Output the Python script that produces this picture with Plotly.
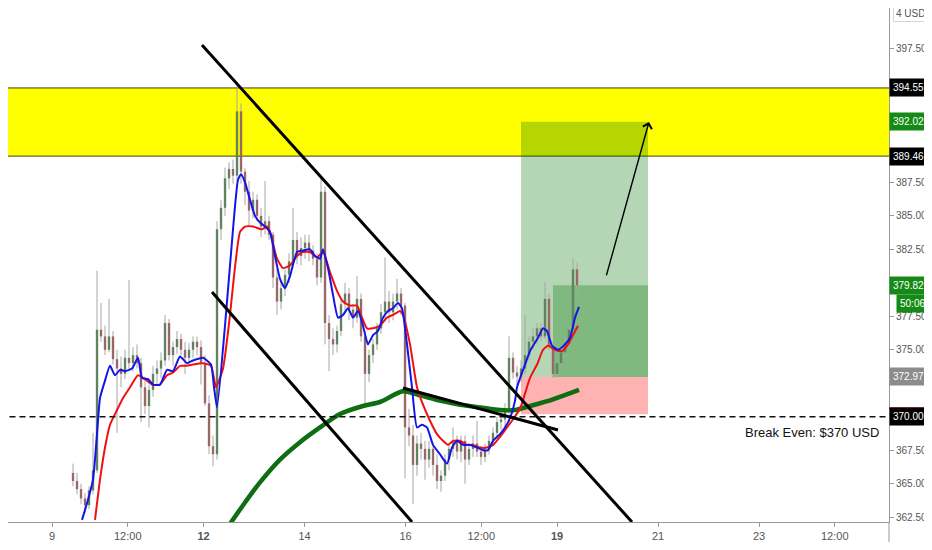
import plotly.graph_objects as go

# ---------------- data ----------------
opens = [365.8, 365.2, 364.6, 363.9, 363.4, 364.5, 366.0, 376.5, 376.0, 375.0, 376.0, 374.3,
         373.6, 373.2, 374.4, 374.0, 374.6, 374.0, 372.2, 370.8, 372.0, 373.2, 373.6, 374.2,
         377.0, 374.6, 375.2, 375.8, 375.0, 374.4, 375.0, 375.6, 375.2, 374.0, 371.0, 367.8,
         367.2, 384.0, 385.6, 387.8, 388.5, 388.0, 392.8, 388.3, 386.8, 385.4, 386.2, 385.0,
         384.2, 384.6, 383.6, 380.4, 378.6, 379.6, 380.6, 381.6, 383.2, 382.0, 382.6, 383.0,
         382.4, 381.8, 380.4, 386.8, 377.0, 375.8, 375.4, 376.4, 378.4, 379.2, 378.0, 377.4,
         378.8, 376.0, 373.2, 374.6, 375.4, 376.6, 377.8, 378.6, 377.8, 378.6, 379.2, 378.3,
         369.2, 368.6, 366.4, 368.0, 367.6, 366.8, 367.6, 366.4, 365.2, 365.6, 366.8, 367.6,
         368.2, 367.4, 368.2, 366.8, 367.6, 368.0, 367.4, 367.0, 367.6, 368.2, 368.8, 369.6,
         369.8, 370.6, 374.4, 373.3, 373.0, 373.6, 374.6, 375.6, 376.0, 376.6, 376.0, 378.8,
         375.3, 373.2, 374.0, 374.8, 375.5, 376.5, 381.0]
highs = [366.5, 365.8, 365.0, 364.3, 364.8, 368.8, 380.9, 378.5, 376.8, 378.8, 376.4, 375.0,
         374.5, 375.0, 380.2, 375.2, 375.4, 374.4, 373.0, 372.4, 373.8, 374.2, 374.8, 377.6,
         377.3, 375.6, 376.4, 376.2, 375.6, 375.5, 376.0, 376.0, 375.7, 374.6, 371.6, 368.6,
         384.6, 386.2, 388.6, 389.0, 389.2, 395.0, 393.4, 388.6, 387.6, 386.8, 386.6, 385.6,
         387.6, 385.0, 383.8, 381.0, 380.2, 381.0, 382.2, 385.6, 383.8, 383.4, 383.6, 383.6,
         382.8, 382.2, 387.8, 387.2, 377.6, 376.6, 376.8, 378.8, 380.0, 379.6, 378.4, 380.5,
         379.2, 376.4, 375.0, 375.8, 377.0, 378.4, 381.9, 379.4, 379.2, 380.3, 379.6, 378.5,
         370.6, 369.4, 368.6, 368.8, 368.2, 368.2, 368.0, 367.2, 366.0, 367.2, 368.0, 369.2,
         368.6, 368.6, 368.6, 368.0, 368.6, 369.7, 367.8, 368.0, 368.6, 369.2, 370.0, 370.4,
         371.0, 376.0, 374.8, 373.8, 374.2, 377.6, 376.0, 376.6, 377.0, 377.0, 380.1, 379.2,
         375.6, 374.4, 375.0, 375.8, 376.8, 381.8, 381.5]
lows = [364.8, 364.2, 363.5, 362.8, 363.1, 364.2, 365.8, 375.6, 374.6, 374.8, 373.9, 368.8,
        372.2, 372.8, 373.5, 373.4, 373.6, 369.6, 370.2, 369.2, 371.5, 372.4, 372.9, 373.8,
        374.2, 373.8, 374.7, 374.6, 373.2, 373.8, 374.4, 374.6, 372.4, 370.8, 367.2, 366.3,
        366.8, 383.2, 385.0, 387.0, 387.4, 387.6, 387.4, 385.8, 384.2, 384.8, 384.6, 383.4,
        383.6, 383.2, 379.6, 377.6, 378.0, 379.0, 380.0, 381.2, 381.4, 381.3, 381.8, 381.6,
        381.3, 379.8, 380.0, 375.4, 373.4, 374.6, 374.8, 376.0, 377.8, 377.2, 376.6, 377.0,
        375.6, 370.9, 372.6, 374.0, 375.0, 376.2, 377.2, 377.0, 377.2, 378.0, 377.6, 365.4,
        367.8, 363.5, 365.6, 366.8, 365.3, 366.2, 365.6, 364.6, 364.4, 365.2, 366.0, 367.0,
        366.8, 366.6, 365.0, 366.4, 367.0, 367.0, 366.4, 366.6, 367.2, 367.8, 368.4, 369.0,
        369.2, 370.2, 372.8, 372.4, 372.6, 373.2, 374.2, 375.0, 375.4, 375.6, 375.8, 375.0,
        372.9, 373.0, 373.6, 374.4, 375.0, 376.2, 379.2]
closes = [365.2, 364.6, 363.9, 363.4, 364.5, 366.0, 376.5, 376.0, 375.0, 376.0, 374.3, 373.6,
          373.2, 374.4, 374.0, 374.6, 374.0, 372.2, 370.8, 372.0, 373.2, 373.6, 374.2, 377.0,
          374.6, 375.2, 375.8, 375.0, 374.4, 375.0, 375.6, 375.2, 374.0, 371.0, 367.8, 367.2,
          384.0, 385.6, 387.8, 388.5, 388.0, 392.8, 388.3, 386.8, 385.4, 386.2, 385.0, 384.2,
          384.6, 383.6, 380.4, 378.6, 379.6, 380.6, 381.6, 383.2, 382.0, 382.6, 383.0, 382.4,
          381.8, 380.4, 386.8, 377.0, 375.8, 375.4, 376.4, 378.4, 379.2, 378.0, 377.4, 378.8,
          376.0, 373.2, 374.6, 375.4, 376.6, 377.8, 378.6, 377.8, 378.6, 379.2, 378.3, 369.2,
          368.6, 366.4, 368.0, 367.6, 366.8, 367.6, 366.4, 365.2, 365.6, 366.8, 367.6, 368.2,
          367.4, 368.2, 366.8, 367.6, 368.0, 367.4, 367.0, 367.6, 368.2, 368.8, 369.6, 369.8,
          370.6, 374.4, 373.3, 373.0, 373.6, 374.6, 375.6, 376.0, 376.6, 376.0, 378.8, 375.3,
          373.2, 374.0, 374.8, 375.5, 376.5, 381.0, 379.82]

# time axis: trading days, first bar position and bars per day
FIRST_BAR_DAY = 0.416
BARS_PER_DAY = 12.625
day_ticks = [0, 1.5, 3, 5, 7, 8.5, 10, 12, 14, 15.5]
day_labels = ["9", "12:00", "<b>12</b>", "14", "16", "12:00", "<b>19</b>", "21", "23", "12:00"]

# price ticks that are not hidden behind the price labels
price_ticks = [362.5, 365.0, 367.5, 375.0, 377.5, 382.5, 385.0, 387.5, 397.5]

# moving averages (bar index, price)
fast_ma_idx = [2.25, 3.75, 5, 6, 6.75, 8, 9.25, 10.5, 11.75, 13, 14.75, 16.25, 17.25, 18.75, 20,
               21.75, 23.5, 25, 26.75, 28.5, 30, 32.5, 34.5, 35.25, 36, 38, 40, 41.25, 42, 43,
               44.25, 45.5, 46.75, 48, 49.25, 50.5, 51.75, 53, 54.25, 56, 57.25, 59.25, 60.5,
               61.75, 62.5, 63.75, 65, 66.25, 67.5, 68.75, 70, 71.25, 72.5, 73.75, 75, 76.25,
               77.5, 78.75, 80, 81.25, 82.25, 83.5, 84.75, 86, 87.25, 88.5, 90, 91.75, 93.5,
               94.75, 96, 97.5, 99.25, 101, 102.5, 103.75, 105, 106.75, 108, 109.25, 110.5, 111,
               113, 114.25, 116.25, 117.5, 118.5, 119.75, 121.25, 123, 124.25, 125.5, 126.5]
fast_ma_val = [362.3, 363.8, 365.3, 368.7, 371.4, 372.7, 373.8, 373.1, 373.5, 373.4, 373.6, 374.4,
               372.9, 372.8, 372.4, 372.4, 373.5, 373.4, 374.5, 374.0, 374.2, 374.4, 373.9, 372.2,
               370.7, 376.8, 384.0, 387.7, 388.1, 387.5, 386.2, 385.0, 384.5, 384.2, 383.8, 382.0,
               380.3, 379.6, 380.5, 382.3, 382.4, 382.5, 382.0, 381.8, 382.5, 381.1, 379.1, 377.4,
               377.6, 378.1, 377.4, 377.9, 376.8, 375.4, 376.1, 376.4, 377.4, 377.9, 378.1, 378.5,
               378.1, 375.4, 372.2, 369.2, 369.4, 369.2, 367.9, 367.2, 366.5, 367.7, 368.2, 367.9,
               367.9, 367.7, 367.5, 367.5, 368.2, 368.7, 369.2, 369.9, 371.2, 372.2, 373.9, 374.9,
               375.9, 376.6, 376.4, 375.3, 375.0, 375.4, 375.9, 377.4, 378.2]
slow_ma_idx = [5.5, 6.75, 8, 9.25, 11, 12.5, 14.25, 16.25, 18, 19.75, 21.75, 23.5, 25, 26.75,
               28.5, 30, 32.5, 34.5, 35.75, 37.5, 39.25, 40.25, 41.75, 43, 45, 47.25, 48.5, 49.25,
               51, 52.5, 54.25, 56, 57.5, 59.25, 61, 62.5, 64.25, 66, 67.5, 69.25, 71, 72.25,
               73.5, 75, 76.75, 78.5, 80, 81.75, 82.5, 84.25, 86, 87.5, 89.25, 91, 92.5, 93.75,
               95, 96.75, 98.5, 100, 101.75, 103.5, 105, 106.75, 108, 109.75, 111.75, 112.25,
               114.25, 116, 117.5, 118.75, 120.5, 122.25, 123.75, 125, 126.25]
slow_ma_val = [362.3, 365.3, 367.7, 369.4, 370.5, 371.4, 372.2, 373.1, 372.8, 372.4, 372.4, 373.1,
               373.3, 373.8, 373.8, 373.9, 374.0, 373.8, 372.2, 373.6, 377.6, 380.5, 383.8, 384.2,
               384.2, 384.0, 384.2, 383.8, 381.8, 381.1, 381.3, 382.0, 382.3, 382.3, 381.9, 382.3,
               380.8, 379.4, 378.6, 378.3, 378.3, 377.4, 376.6, 376.6, 376.8, 377.4, 377.6, 377.9,
               377.6, 375.4, 372.2, 370.9, 369.7, 368.7, 368.2, 367.9, 368.2, 368.2, 367.9, 367.9,
               367.7, 367.7, 367.9, 368.5, 369.0, 369.7, 370.6, 371.0, 372.9, 373.9, 375.0, 375.3,
               375.0, 374.9, 375.4, 376.1, 376.8]
long_ma_idx = [39.25, 43, 46.75, 51.75, 56.75, 61.75, 66.75, 72.5, 76.75, 82.5, 86.75, 91.75,
               96.75, 101.75, 106.75, 110.5, 114.25, 120, 126.5]
long_ma_val = [362.0, 363.6, 365.1, 366.8, 368.1, 369.2, 370.2, 370.8, 371.1, 371.9, 371.6, 371.2,
               370.9, 370.7, 370.5, 370.5, 370.8, 371.3, 372.0]

# drawings (day, price)
zone_low, zone_high = 389.46, 394.55
entry_price, target_price, stop_price = 372.97, 392.02, 370.18
last_price = 379.82
break_even = 370.00
position_start_day, position_inner_day, position_end_day = 9.287, 9.921, 11.802
trend_lines = [  # (day0, price0, day1, price1, width)
    (2.970, 397.76, 11.485, 362.14, 3),
    (3.168, 379.31, 7.129, 362.14, 3),
    (6.950, 372.15, 10.020, 369.01, 3),
]
arrow_from = (10.970, 380.44)
arrow_to = (11.822, 392.01)

Y_RANGE = [362.14, 400.52]
X_RANGE = [-0.8713, 16.574]

# ---------------- figure ----------------
FONT = "Liberation Sans"
n = len(closes)
bar_day = [FIRST_BAR_DAY + i / BARS_PER_DAY for i in range(n)]


def idx_to_day(idx_list):
    return [FIRST_BAR_DAY + i / BARS_PER_DAY for i in idx_list]


fig = go.Figure()

# wicks
wx, wy = [], []
for d, h, l in zip(bar_day, highs, lows):
    wx += [d, d, None]
    wy += [l, h, None]
fig.add_trace(go.Scatter(x=wx, y=wy, mode="lines", line=dict(color="#a6a6a6", width=1),
                         hoverinfo="skip", showlegend=False))

# bodies
for up, color in ((True, "#1d5f1d"), (False, "#8a2a2a")):
    sel = [i for i in range(n) if (closes[i] >= opens[i]) == up]
    fig.add_trace(go.Bar(
        x=[bar_day[i] for i in sel],
        base=[min(opens[i], closes[i]) for i in sel],
        y=[max(abs(closes[i] - opens[i]), 0.09) for i in sel],
        width=0.045, marker=dict(color=color, line=dict(width=0)),
        hoverinfo="skip", showlegend=False))

fig.add_trace(go.Scatter(x=idx_to_day(long_ma_idx), y=long_ma_val, mode="lines",
                         line=dict(color="#0f6e12", width=4.5, shape="spline", smoothing=0.8),
                         showlegend=False, hoverinfo="skip"))
fig.add_trace(go.Scatter(x=idx_to_day(slow_ma_idx), y=slow_ma_val, mode="lines",
                         line=dict(color="#f01010", width=2, shape="spline", smoothing=0.5),
                         showlegend=False, hoverinfo="skip"))
fig.add_trace(go.Scatter(x=idx_to_day(fast_ma_idx), y=fast_ma_val, mode="lines",
                         line=dict(color="#1414e6", width=2, shape="spline", smoothing=0.5),
                         showlegend=False, hoverinfo="skip"))

shapes = [
    dict(type="rect", xref="x", yref="y", x0=-5, x1=25, y0=zone_low, y1=zone_high,
         fillcolor="#ffff00", line=dict(color="#3f3f10", width=1), layer="below"),
    dict(type="rect", xref="x", yref="y", x0=position_start_day, x1=position_end_day,
         y0=entry_price, y1=target_price, fillcolor="rgba(0,115,0,0.29)", line=dict(width=0),
         layer="below"),
    dict(type="rect", xref="x", yref="y", x0=position_inner_day, x1=position_end_day,
         y0=entry_price, y1=last_price, fillcolor="rgba(0,115,0,0.29)", line=dict(width=0),
         layer="below"),
    dict(type="rect", xref="x", yref="y", x0=position_start_day, x1=position_end_day,
         y0=stop_price, y1=entry_price, fillcolor="rgba(255,0,0,0.30)", line=dict(width=0),
         layer="below"),
    dict(type="line", xref="x", yref="y", x0=-5, x1=25, y0=break_even, y1=break_even,
         line=dict(color="#111111", width=1.4, dash="6px,4px"), layer="above"),
]
for d0, p0, d1, p1, w in trend_lines:
    shapes.append(dict(type="line", xref="x", yref="y", x0=d0, y0=p0, x1=d1, y1=p1,
                       line=dict(color="#000000", width=w), layer="above"))
# right axis line continuing into the bottom margin
shapes.append(dict(type="line", xref="paper", yref="paper", x0=1, x1=1, y0=-0.06, y1=0,
                   line=dict(color="#9a9a9a", width=1)))
# red marker strip above the break-even label
be_paper = (break_even + 0.62 - Y_RANGE[0]) / (Y_RANGE[1] - Y_RANGE[0])
shapes.append(dict(type="line", xref="paper", yref="paper", x0=1.0, x1=1.06, y0=be_paper,
                   y1=be_paper, line=dict(color="#e01010", width=2.5)))

annotations = [
    dict(x=arrow_to[0], y=arrow_to[1], ax=arrow_from[0], ay=arrow_from[1], xref="x", yref="y",
         axref="x", ayref="y", text="", showarrow=True, arrowhead=4, arrowsize=1.3,
         arrowwidth=1.4, arrowcolor="#000000", standoff=0),
    dict(x=0.991, xref="paper", y=368.86, yref="y", text="Break Even: $370 USD", showarrow=False,
         xanchor="right", yanchor="middle", font=dict(family=FONT, size=13, color="#111111")),
    dict(x=1, xref="paper", xanchor="left", xshift=4, y=1, yref="paper", yanchor="top",
         yshift=3, text="4 USD", showarrow=False, bgcolor="#ffffff", bordercolor="#d5d5d5",
         borderwidth=1, borderpad=2, font=dict(family=FONT, size=10, color="#555555")),
]
price_labels = [
    (zone_high, f"{zone_high:.2f}", "#000000", 0),
    (target_price, f"{target_price:.2f}", "#168a16", 0),
    (zone_low, f"{zone_low:.2f}", "#000000", 0),
    (last_price, f"{last_price:.2f}", "#168a16", 0),
    (378.42, "50:06", "#168a16", 7),
    (entry_price, f"{entry_price:.2f}", "#8c8c8c", 0),
    (break_even, f"{break_even:.2f}", "#000000", 0),
]
for yv, txt, bg, xs in price_labels:
    annotations.append(dict(x=1, xref="paper", xanchor="left", xshift=xs, y=yv, yref="y",
                            yanchor="middle", text=txt, showarrow=False, bgcolor=bg,
                            borderpad=3, font=dict(family=FONT, size=10, color="#ffffff")))

# the page body adds an 8px offset, so the figure is sized to fit the 932x550 window
fig.update_layout(
    width=924, height=534,
    margin=dict(l=0, r=43, t=0, b=20),
    paper_bgcolor="#ffffff", plot_bgcolor="#ffffff",
    barmode="overlay", showlegend=False,
    shapes=shapes, annotations=annotations,
    font=dict(family=FONT, size=11, color="#555555"),
    xaxis=dict(range=X_RANGE, tickvals=day_ticks, ticktext=day_labels, ticks="outside",
               ticklen=4, tickcolor="#9a9a9a", showline=True, linecolor="#9a9a9a",
               showgrid=False, zeroline=False, tickfont=dict(family=FONT, size=11, color="#555555")),
    yaxis=dict(range=Y_RANGE, side="right", tickvals=price_ticks,
               ticktext=[f"{v:.2f}" for v in price_ticks],
               ticks="outside", ticklen=4, tickcolor="#9a9a9a", showline=True,
               linecolor="#9a9a9a", showgrid=False, zeroline=False,
               tickfont=dict(family=FONT, size=10, color="#555555")),
)

fig.write_html("out.html", config={"displayModeBar": False})
